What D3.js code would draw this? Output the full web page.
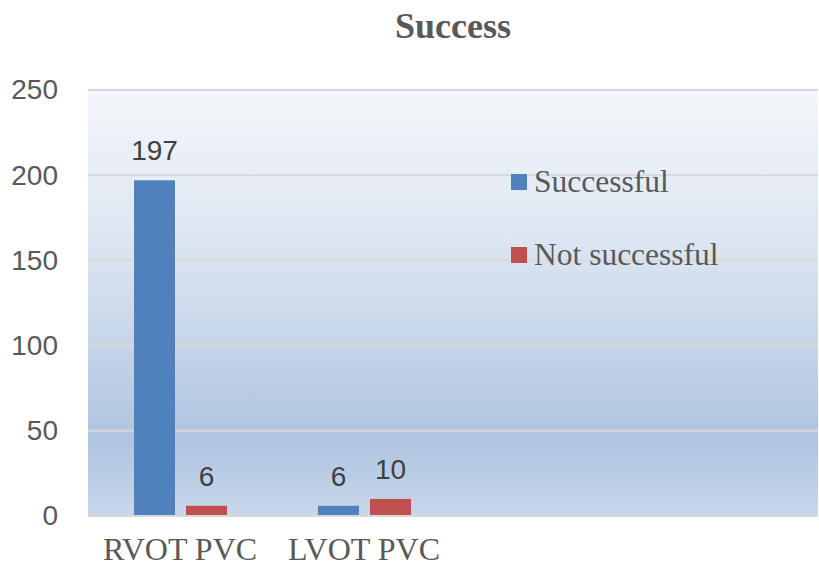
<!DOCTYPE html>
<html lang="en">
<head>
    <meta charset="UTF-8">
    <title>Success</title>
    <script src="https://d3js.org/d3.v7.min.js"></script>
    <style>
        body { margin: 0; background: #fff; }
        svg { display: block; }
    </style>
</head>
<body>
    <div id="chart"></div>
    <script>
        // data
        var categories = ["RVOT PVC", "LVOT PVC"];
        var seriesNames = ["Successful", "Not successful"];
        var successful = [197, 6];
        var notSuccessful = [6, 10];
        var yTicks = [0, 50, 100, 150, 200, 250];
        var colors = ["#4f81bd", "#c0504d"];

        var W = 819, H = 567;
        var plot = {left: 88, right: 818, top: 90, bottom: 516};
        var bandW = 184; // width of one category slot

        var svg = d3.select("#chart").append("svg")
            .attr("width", W)
            .attr("height", H);

        // background gradient of the plot area
        var grad = svg.append("defs").append("linearGradient")
            .attr("id", "bg")
            .attr("x1", 0).attr("y1", 0).attr("x2", 0).attr("y2", 1);
        grad.append("stop").attr("offset", "0%").attr("stop-color", "#f4f7fb");
        grad.append("stop").attr("offset", "40%").attr("stop-color", "#d9e3f0");
        grad.append("stop").attr("offset", "82%").attr("stop-color", "#aec4e0");
        grad.append("stop").attr("offset", "100%").attr("stop-color", "#c8d7eb");

        svg.append("rect")
            .attr("x", plot.left)
            .attr("y", plot.top)
            .attr("width", plot.right - plot.left)
            .attr("height", plot.bottom - plot.top)
            .attr("fill", "url(#bg)");

        var y = d3.scaleLinear()
            .domain([0, 250])
            .range([plot.bottom, plot.top]);

        var x = d3.scaleBand()
            .domain(categories)
            .range([plot.left, plot.left + bandW * categories.length]);

        var x1 = d3.scaleBand()
            .domain(seriesNames)
            .range([46, 46 + 93])
            .paddingInner(11 / 52);

        // gridlines
        svg.append("g")
            .selectAll("line")
            .data(yTicks)
            .enter()
            .append("line")
            .attr("x1", plot.left)
            .attr("x2", plot.right)
            .attr("y1", function(d) { return y(d); })
            .attr("y2", function(d) { return y(d); })
            .attr("stroke", "#d9d9d9")
            .attr("stroke-width", 2);

        // y axis labels
        var yAxis = svg.append("g")
            .attr("transform", "translate(58,0)")
            .call(d3.axisLeft(y).tickValues(yTicks).tickSize(0).tickPadding(0));
        yAxis.select(".domain").remove();
        yAxis.selectAll("text")
            .attr("fill", "#595959")
            .style("font-family", "'Liberation Sans', Arial, sans-serif")
            .style("font-size", "28px");

        // bars
        var rows = categories.map(function(c, i) {
            return {cat: c, values: [successful[i], notSuccessful[i]]};
        });

        var groups = svg.append("g")
            .selectAll("g")
            .data(rows)
            .enter()
            .append("g")
            .attr("transform", function(d) { return "translate(" + x(d.cat) + ",0)"; });

        groups.selectAll("rect")
            .data(function(d) { return d.values.map(function(v, j) { return {name: seriesNames[j], v: v, j: j}; }); })
            .enter()
            .append("rect")
            .attr("x", function(d) { return x1(d.name); })
            .attr("y", function(d) { return y(d.v); })
            .attr("width", x1.bandwidth())
            .attr("height", function(d) { return y(0) - y(d.v); })
            .attr("fill", function(d) { return colors[d.j]; });

        groups.selectAll("text")
            .data(function(d) { return d.values.map(function(v, j) { return {name: seriesNames[j], v: v}; }); })
            .enter()
            .append("text")
            .attr("x", function(d) { return x1(d.name) + x1.bandwidth() / 2; })
            .attr("y", function(d) { return y(d.v) - 20; })
            .attr("text-anchor", "middle")
            .attr("fill", "#404040")
            .style("font-family", "'Liberation Sans', Arial, sans-serif")
            .style("font-size", "28px")
            .text(function(d) { return d.v; });

        // x axis line
        svg.append("line")
            .attr("x1", plot.left).attr("x2", plot.right)
            .attr("y1", y(0)).attr("y2", y(0))
            .attr("stroke", "#d9d9d9")
            .attr("stroke-width", 2);

        // category labels
        svg.append("g")
            .selectAll("text")
            .data(categories)
            .enter()
            .append("text")
            .attr("x", function(d) { return x(d) + x.bandwidth() / 2; })
            .attr("y", 560)
            .attr("text-anchor", "middle")
            .attr("fill", "#595959")
            .style("font-family", "'Liberation Serif', 'Times New Roman', serif")
            .style("font-size", "32px")
            .text(function(d) { return d; });

        // title
        svg.append("text")
            .attr("x", (plot.left + plot.right) / 2)
            .attr("y", 38)
            .attr("text-anchor", "middle")
            .attr("fill", "#595959")
            .style("font-family", "'Liberation Serif', 'Times New Roman', serif")
            .style("font-size", "36px")
            .style("font-weight", "bold")
            .text("Success");

        // legend
        var legend = svg.append("g")
            .selectAll("g")
            .data(seriesNames)
            .enter()
            .append("g")
            .attr("transform", function(d, i) { return "translate(511," + (174 + i * 73) + ")"; });
        legend.append("rect")
            .attr("width", 16)
            .attr("height", 16)
            .attr("fill", function(d, i) { return colors[i]; });
        legend.append("text")
            .attr("x", 23)
            .attr("y", 18)
            .attr("fill", "#595959")
            .style("font-family", "'Liberation Serif', 'Times New Roman', serif")
            .style("font-size", "31.5px")
            .text(function(d) { return d; });
    </script>
</body>
</html>
